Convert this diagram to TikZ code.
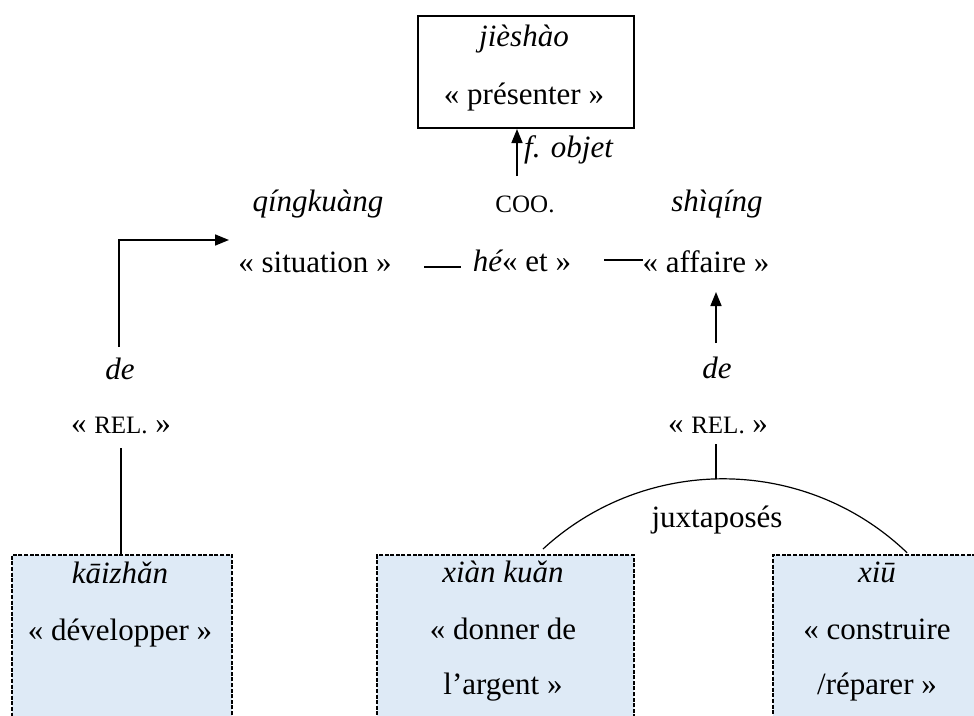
\documentclass[tikz,border=0pt]{standalone}
\usepackage{fontspec}
\setmainfont{Liberation Serif}
\usetikzlibrary{arrows.meta}
\definecolor{boxblue}{HTML}{DEEAF6}
\tikzset{
  txt/.style={font=\fontsize{31}{37}\selectfont, inner sep=0pt, anchor=base},
  smallc/.style={font=\fontsize{25}{30}\selectfont, inner sep=0pt, anchor=base},
  conn/.style={line width=1.5pt},
  thinconn/.style={line width=1.2pt},
  arr/.style={line width=1.6pt, -{Triangle[length=14pt,width=11pt]}},
  topbox/.style={draw, line width=2pt, minimum width=216pt, minimum height=112pt, inner sep=0pt},
  dbox/.style={draw, fill=boxblue, dash pattern=on 4pt off 1.6pt, line width=2pt, anchor=north west, inner sep=0pt, minimum height=220pt}
}
\newcommand{\smc}[1]{{\fontsize{25}{30}\selectfont #1}}
\begin{document}
\begin{tikzpicture}[x=1pt,y=-1pt]
\useasboundingbox (0,0) rectangle (974,715);
% top box
\node[topbox] (top) at (526,72) {};
\node[txt] (jie) at (524,46) {\itshape jièshào};
\node[txt] (pres) at (524,104) {« présenter »};
% row 1
\node[txt] (qing) at (318,211) {\itshape qíngkuàng};
\node[smallc] (coo) at (525,212) {COO.};
\node[txt] (shi) at (717,211) {\itshape shìqíng};
% row 2
\node[txt] (sit) at (315,272) {« situation »};
\node[txt] (he) at (522,271) {{\itshape hé}« et »};
\node[txt] (aff) at (706,272) {« affaire »};
% de / REL
\node[txt] (deL) at (120,379) {\itshape de};
\node[txt] (relL) at (121,433) {« \smc{REL.} »};
\node[txt] (deR) at (717,378) {\itshape de};
\node[txt] (relR) at (718,433) {« \smc{REL.} »};
\node[txt] (jux) at (717,527) {juxtaposés};
% bottom boxes
\node[dbox, minimum width=220pt] (kai) at (11,554) {};
\node[dbox, minimum width=257pt] (xian) at (376,554) {};
\node[dbox, minimum width=210pt] (xiu) at (772,554) {};
\node[txt] (kai1) at (120,583) {\itshape kāizhǎn};
\node[txt] (kai2) at (120,640) {« développer »};
\node[txt] (xian1) at (503,582) {\itshape xiàn kuǎn};
\node[txt] (xian2) at (503,639) {« donner de};
\node[txt] (xian3) at (503,694) {l’argent »};
\node[txt] (xiu1) at (877,582) {\itshape xiū};
\node[txt] (xiu2) at (877,639) {« construire};
\node[txt] (xiu3) at (877,694) {/réparer »};
% f. objet
\coordinate (cooTop) at (517,176);
\draw[arr] (cooTop) -- (top.south -| cooTop);
\node[txt, anchor=base west] (fobj) at (524,157) {\itshape f. objet};
% dashes
\coordinate (d1a) at (424,267); \coordinate (d1b) at (461,267);
\coordinate (d2a) at (604,260); \coordinate (d2b) at (643,260);
\draw[line width=1.8pt] (d1a) -- (d1b);
\draw[line width=1.8pt] (d2a) -- (d2b);
% left elbow
\coordinate (elbowBot) at (119,347);
\coordinate (elbowTip) at (229,240);
\draw[arr] (elbowBot) |- (elbowTip);
\draw[conn] (relL.south |- 0,448) -- (kai.north -| relL.south);
% right arrow
\coordinate (rArrBot) at (716,343);
\draw[arr] (rArrBot) -- (716,292);
% arc
\coordinate (arcTop) at (716,479);
\draw[thinconn] (716,444) -- (arcTop);
\coordinate (arcL) at (543,549);
\draw[thinconn] (arcL) arc[start angle=-132.6, end angle=-46.2, radius=266];
\end{tikzpicture}
\end{document}
